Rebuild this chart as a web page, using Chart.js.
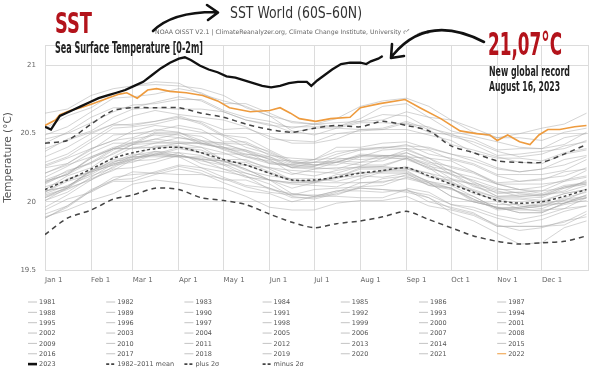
<!DOCTYPE html>
<html>
<head>
<meta charset="utf-8">
<script src="https://cdn.jsdelivr.net/npm/chart.js@4.4.1/dist/chart.umd.min.js"></script>
<style>
  html, body { margin: 0; padding: 0; background: #fff; }
  #wrap { width: 600px; height: 372px; }
</style>
</head>
<body>
<div id="wrap"><canvas id="sst" width="600" height="372"></canvas></div>
<script>
// day of year for the sample points of the climatology and older years
const days = [0,15,31,46,59,74,90,105,120,135,151,166,181,196,212,227,243,258,273,288,304,319,334,349,364];
const days1981 = [243,258,273,288,304,319,334,349,364];
const monthDays = [0,31,59,90,120,151,181,212,243,273,304,334];
const monthLabels = ["Jan 1","Feb 1","Mar 1","Apr 1","May 1","Jun 1","Jul 1","Aug 1","Sep 1","Oct 1","Nov 1","Dec 1"];
const yTicks = [19.5, 20, 20.5, 21];

const meanSst = [20.09,20.16,20.24,20.32,20.36,20.39,20.40,20.36,20.31,20.27,20.21,20.16,20.16,20.18,20.21,20.23,20.25,20.19,20.13,20.07,20.01,19.99,20.00,20.04,20.09];
const plus2Sigma = [20.43,20.45,20.57,20.67,20.69,20.69,20.69,20.65,20.62,20.57,20.53,20.51,20.54,20.56,20.55,20.59,20.56,20.52,20.41,20.36,20.30,20.29,20.29,20.35,20.42];
const minus2Sigma = [19.76,19.88,19.94,20.02,20.05,20.10,20.09,20.03,20.01,19.98,19.91,19.85,19.81,19.84,19.86,19.89,19.93,19.87,19.81,19.75,19.71,19.69,19.70,19.71,19.75];

const days2023 = [0,4,7,10,14,18,24,30,36,42,48,54,60,66,72,78,84,90,94,98,104,110,116,122,128,134,140,146,152,158,164,170,176,179,183,188,193,199,205,212,216,219,224,227];
const sst2023 = [20.55,20.53,20.58,20.63,20.65,20.67,20.70,20.73,20.76,20.78,20.80,20.82,20.85,20.88,20.93,20.98,21.02,21.05,21.06,21.04,21.00,20.97,20.95,20.92,20.91,20.89,20.87,20.85,20.84,20.85,20.87,20.88,20.88,20.85,20.89,20.93,20.97,21.01,21.02,21.02,21.01,21.03,21.05,21.07];

const days2022 = [0,7,10,17,24,32,42,50,55,62,69,75,84,95,106,116,124,138,151,158,165,171,182,192,205,212,225,242,252,266,279,290,299,304,311,319,326,332,338,346,356,364];
const sst2022 = [20.56,20.60,20.64,20.67,20.69,20.72,20.76,20.79,20.80,20.76,20.82,20.83,20.81,20.80,20.78,20.74,20.69,20.66,20.67,20.69,20.65,20.61,20.59,20.61,20.62,20.69,20.72,20.75,20.69,20.61,20.52,20.50,20.49,20.45,20.49,20.44,20.42,20.49,20.53,20.53,20.55,20.56];

const sst1981 = [20.10,20.07,19.98,19.96,19.90,19.87,19.90,19.95,19.97];
const sst1982 = [19.94,20.02,20.07,20.16,20.22,20.21,20.20,20.20,20.17,20.11,20.07,20.05,20.05,20.05,20.11,20.17,20.19,20.12,20.10,20.02,19.94,19.95,19.97,19.99,20.05];
const sst1983 = [20.08,20.11,20.23,20.28,20.31,20.37,20.36,20.28,20.24,20.21,20.16,20.06,20.04,20.08,20.10,20.09,20.07,20.03,19.95,19.91,19.83,19.79,19.81,19.86,19.89];
const sst1984 = [19.88,19.96,20.08,20.15,20.15,20.20,20.24,20.21,20.14,20.08,20.06,20.00,20.04,20.04,20.03,20.03,20.09,20.03,19.92,19.86,19.77,19.69,19.70,19.81,19.86];
const sst1985 = [19.89,19.94,20.01,20.06,20.13,20.16,20.14,20.11,20.10,20.04,19.96,19.94,19.94,19.99,20.01,20.01,20.04,19.97,19.94,19.90,19.82,19.82,19.82,19.85,19.93];
const sst1986 = [19.91,19.97,20.08,20.18,20.20,20.21,20.26,20.23,20.16,20.16,20.10,20.03,20.03,20.07,20.14,20.15,20.17,20.13,20.10,20.01,19.98,19.98,19.97,20.03,20.07];
const sst1987 = [20.07,20.17,20.22,20.33,20.40,20.40,20.40,20.40,20.36,20.30,20.25,20.23,20.22,20.21,20.26,20.32,20.32,20.24,20.21,20.12,20.04,20.04,20.05,20.07,20.12];
const sst1988 = [20.11,20.16,20.22,20.27,20.34,20.37,20.34,20.30,20.27,20.19,20.09,20.06,20.04,20.08,20.08,20.07,20.09,20.00,19.96,19.92,19.82,19.82,19.82,19.83,19.91];
const sst1989 = [19.88,19.97,20.09,20.16,20.17,20.22,20.27,20.25,20.18,20.12,20.10,20.05,20.09,20.10,20.11,20.12,20.18,20.14,20.04,20.00,19.96,19.92,19.92,19.99,20.03];
const sst1990 = [20.04,20.10,20.21,20.31,20.33,20.34,20.39,20.36,20.29,20.29,20.22,20.16,20.15,20.18,20.25,20.25,20.25,20.21,20.17,20.08,20.03,20.03,20.01,20.06,20.09];
const sst1991 = [20.07,20.15,20.20,20.29,20.35,20.34,20.33,20.33,20.30,20.23,20.19,20.17,20.17,20.15,20.19,20.23,20.23,20.14,20.10,20.02,19.95,19.96,19.99,20.01,20.08];
const sst1992 = [20.08,20.11,20.22,20.27,20.29,20.35,20.33,20.25,20.22,20.19,20.13,20.04,20.02,20.06,20.10,20.09,20.08,20.05,19.98,19.94,19.88,19.84,19.87,19.93,19.97];
const sst1993 = [19.96,20.05,20.16,20.24,20.25,20.29,20.34,20.31,20.24,20.18,20.16,20.10,20.14,20.14,20.14,20.14,20.20,20.14,20.04,20.00,19.96,19.92,19.92,19.99,20.03];
const sst1994 = [20.03,20.09,20.17,20.23,20.31,20.35,20.34,20.31,20.30,20.24,20.16,20.14,20.14,20.20,20.21,20.22,20.26,20.18,20.16,20.13,20.04,20.05,20.05,20.08,20.16];
const sst1995 = [20.14,20.20,20.29,20.39,20.39,20.40,20.43,20.40,20.31,20.31,20.24,20.16,20.15,20.17,20.22,20.21,20.21,20.15,20.10,20.00,19.96,19.95,19.93,19.98,20.01];
const sst1996 = [20.01,20.10,20.16,20.26,20.33,20.33,20.33,20.32,20.28,20.21,20.16,20.13,20.12,20.11,20.17,20.22,20.22,20.15,20.12,20.04,19.95,19.96,19.98,19.99,20.05];
const sst1997 = [20.05,20.10,20.23,20.29,20.33,20.41,20.41,20.36,20.35,20.35,20.32,20.25,20.26,20.33,20.38,20.40,20.41,20.40,20.35,20.32,20.25,20.22,20.24,20.31,20.34];
const sst1998 = [20.33,20.40,20.50,20.57,20.56,20.59,20.62,20.57,20.48,20.40,20.35,20.28,20.29,20.29,20.27,20.27,20.32,20.25,20.14,20.09,20.03,19.97,19.95,20.01,20.03];
const sst1999 = [20.06,20.12,20.19,20.25,20.32,20.36,20.34,20.31,20.30,20.24,20.16,20.14,20.14,20.18,20.19,20.18,20.21,20.12,20.09,20.04,19.95,19.94,19.94,19.95,20.03];
const sst2000 = [20.01,20.07,20.18,20.28,20.30,20.31,20.36,20.34,20.27,20.27,20.21,20.15,20.15,20.18,20.24,20.24,20.24,20.19,20.15,20.06,20.02,20.02,20.00,20.06,20.09];
const sst2001 = [20.09,20.19,20.25,20.36,20.42,20.43,20.43,20.43,20.39,20.33,20.28,20.26,20.25,20.24,20.29,20.34,20.34,20.26,20.23,20.15,20.06,20.07,20.08,20.10,20.15];
const sst2002 = [20.15,20.20,20.32,20.39,20.42,20.50,20.49,20.42,20.40,20.38,20.33,20.25,20.24,20.29,20.34,20.34,20.33,20.32,20.25,20.21,20.13,20.09,20.11,20.16,20.19];
const sst2003 = [20.18,20.26,20.36,20.43,20.43,20.46,20.50,20.48,20.40,20.35,20.33,20.27,20.31,20.32,20.31,20.32,20.38,20.32,20.22,20.18,20.13,20.09,20.08,20.15,20.18];
const sst2004 = [20.21,20.27,20.33,20.39,20.46,20.49,20.47,20.44,20.43,20.37,20.28,20.27,20.26,20.31,20.33,20.33,20.36,20.29,20.26,20.22,20.13,20.13,20.13,20.15,20.23];
const sst2005 = [20.21,20.28,20.38,20.49,20.50,20.52,20.56,20.53,20.44,20.44,20.36,20.29,20.27,20.29,20.35,20.34,20.33,20.28,20.23,20.14,20.09,20.09,20.06,20.12,20.14];
const sst2006 = [20.14,20.23,20.28,20.38,20.44,20.44,20.43,20.43,20.40,20.34,20.29,20.27,20.27,20.27,20.33,20.38,20.39,20.32,20.30,20.22,20.14,20.15,20.17,20.19,20.25];
const sst2007 = [20.25,20.28,20.39,20.45,20.47,20.53,20.51,20.43,20.39,20.37,20.31,20.21,20.19,20.23,20.26,20.26,20.24,20.21,20.13,20.08,20.00,19.95,19.97,20.02,20.04];
const sst2008 = [20.03,20.11,20.23,20.30,20.31,20.35,20.40,20.38,20.31,20.27,20.25,20.20,20.24,20.25,20.25,20.26,20.32,20.27,20.17,20.13,20.08,20.04,20.03,20.10,20.13];
const sst2009 = [20.16,20.22,20.29,20.35,20.42,20.46,20.44,20.43,20.42,20.38,20.31,20.30,20.31,20.37,20.38,20.39,20.42,20.35,20.32,20.28,20.20,20.20,20.20,20.23,20.31];
const sst2010 = [20.29,20.35,20.46,20.56,20.57,20.59,20.63,20.58,20.49,20.47,20.38,20.30,20.27,20.29,20.34,20.33,20.31,20.25,20.20,20.11,20.07,20.07,20.05,20.11,20.14];
const sst2011 = [20.13,20.21,20.32,20.39,20.39,20.43,20.47,20.45,20.38,20.33,20.30,20.25,20.29,20.30,20.29,20.30,20.36,20.30,20.20,20.16,20.10,20.06,20.04,20.11,20.13];
const sst2012 = [20.15,20.20,20.33,20.40,20.43,20.51,20.51,20.45,20.43,20.42,20.37,20.29,20.29,20.35,20.39,20.40,20.39,20.38,20.31,20.27,20.19,20.15,20.16,20.22,20.24];
const sst2013 = [20.26,20.32,20.39,20.45,20.52,20.56,20.54,20.51,20.49,20.43,20.34,20.32,20.31,20.40,20.40,20.43,20.44,20.39,20.35,20.30,20.24,20.22,20.24,20.27,20.33];
const sst2014 = [20.27,20.33,20.44,20.54,20.55,20.57,20.61,20.59,20.53,20.54,20.48,20.43,20.43,20.46,20.53,20.53,20.53,20.49,20.45,20.36,20.32,20.32,20.30,20.36,20.39];
const sst2015 = [20.37,20.46,20.52,20.62,20.68,20.69,20.68,20.68,20.66,20.60,20.56,20.55,20.55,20.55,20.61,20.70,20.72,20.62,20.60,20.54,20.47,20.50,20.54,20.57,20.65];
const sst2016 = [20.65,20.68,20.78,20.83,20.85,20.88,20.87,20.79,20.74,20.70,20.63,20.52,20.49,20.54,20.58,20.58,20.57,20.55,20.48,20.44,20.37,20.33,20.35,20.41,20.44];
const sst2017 = [20.43,20.51,20.62,20.69,20.69,20.73,20.77,20.74,20.66,20.60,20.57,20.51,20.54,20.54,20.53,20.54,20.59,20.53,20.42,20.38,20.33,20.29,20.28,20.35,20.38];
const sst2018 = [20.39,20.45,20.51,20.57,20.63,20.67,20.64,20.62,20.60,20.55,20.46,20.45,20.44,20.50,20.52,20.53,20.58,20.51,20.49,20.46,20.38,20.39,20.39,20.42,20.51];
const sst2019 = [20.49,20.55,20.66,20.76,20.77,20.79,20.83,20.80,20.72,20.72,20.65,20.58,20.57,20.61,20.70,20.74,20.76,20.70,20.60,20.51,20.47,20.47,20.45,20.51,20.54];
const sst2020 = [20.54,20.63,20.69,20.79,20.85,20.86,20.85,20.83,20.78,20.69,20.63,20.59,20.57,20.55,20.59,20.64,20.63,20.54,20.50,20.42,20.34,20.35,20.37,20.39,20.45];
const sst2021 = [20.46,20.50,20.58,20.66,20.71,20.72,20.75,20.75,20.67,20.62,20.59,20.54,20.57,20.58,20.59,20.60,20.66,20.62,20.52,20.48,20.44,20.40,20.39,20.47,20.50];

const pastYears = [
  [1981, days1981, sst1981], [1982, days, sst1982], [1983, days, sst1983], [1984, days, sst1984],
  [1985, days, sst1985], [1986, days, sst1986], [1987, days, sst1987], [1988, days, sst1988],
  [1989, days, sst1989], [1990, days, sst1990], [1991, days, sst1991], [1992, days, sst1992],
  [1993, days, sst1993], [1994, days, sst1994], [1995, days, sst1995], [1996, days, sst1996],
  [1997, days, sst1997], [1998, days, sst1998], [1999, days, sst1999], [2000, days, sst2000],
  [2001, days, sst2001], [2002, days, sst2002], [2003, days, sst2003], [2004, days, sst2004],
  [2005, days, sst2005], [2006, days, sst2006], [2007, days, sst2007], [2008, days, sst2008],
  [2009, days, sst2009], [2010, days, sst2010], [2011, days, sst2011], [2012, days, sst2012],
  [2013, days, sst2013], [2014, days, sst2014], [2015, days, sst2015], [2016, days, sst2016],
  [2017, days, sst2017], [2018, days, sst2018], [2019, days, sst2019], [2020, days, sst2020],
  [2021, days, sst2021]
];

const toPoints = (xs, ys) => xs.map((x, i) => ({ x: x, y: ys[i] }));

const datasets = pastYears.map(([yil, xs, ys]) => ({
  label: String(yil),
  data: toPoints(xs, ys),
  borderColor: 'rgba(170,170,170,0.5)',
  legendColor: '#c4c4c4',
  borderWidth: 1,
  order: 5
}));
datasets.push({ label: '2022', data: toPoints(days2022, sst2022), borderColor: '#ee9b3e', legendColor: '#ee9b3e', borderWidth: 1.6, order: 1 });
datasets.push({ label: '2023', data: toPoints(days2023, sst2023), borderColor: '#111', legendColor: '#111', borderWidth: 2.3, order: 0 });
datasets.push({ label: '1982–2011 mean', data: toPoints(days, meanSst), borderColor: '#444', legendColor: '#444', borderWidth: 1.5, borderDash: [3, 2.5], tension: 0.25, order: 2 });
datasets.push({ label: 'plus 2σ', data: toPoints(days, plus2Sigma), borderColor: '#444', legendColor: '#444', borderWidth: 1.5, borderDash: [5, 4], tension: 0.25, order: 3 });
datasets.push({ label: 'minus 2σ', data: toPoints(days, minus2Sigma), borderColor: '#444', legendColor: '#444', borderWidth: 1.5, borderDash: [5, 4], tension: 0.25, order: 3 });

// text squeezed to a given width (condensed look of the original)
const fitText = (ctx, text, x, y, w, font, color) => {
  ctx.save();
  ctx.font = font;
  ctx.fillStyle = color;
  ctx.textAlign = 'left';
  ctx.textBaseline = 'alphabetic';
  const m = ctx.measureText(text).width;
  ctx.translate(x, y);
  ctx.scale(w / m, 1);
  ctx.fillText(text, 0, 0);
  ctx.restore();
};

const notes = {
  id: 'notes',
  afterDraw(chart) {
    const ctx = chart.ctx;
    const cond = '"Liberation Sans Narrow", "DejaVu Sans Condensed", "DejaVu Sans", sans-serif';

    // legend, 7 columns
    ctx.save();
    chart.data.datasets.forEach((ds, i) => {
      const x = 28 + (i % 7) * 78.2;
      const y = 302 + Math.floor(i / 7) * 10.35;
      ctx.beginPath();
      ctx.setLineDash(ds.borderDash ? [3, 2] : []);
      ctx.strokeStyle = ds.legendColor;
      ctx.lineWidth = ds.label === '2023' ? 2.6 : (ds.borderDash ? 1.6 : 1);
      ctx.moveTo(x, y);
      ctx.lineTo(x + 9, y);
      ctx.stroke();
      ctx.setLineDash([]);
      ctx.font = '6.5px "DejaVu Sans"';
      ctx.fillStyle = '#555';
      ctx.textBaseline = 'middle';
      ctx.fillText(ds.label, x + 11, y + 0.5);
    });
    ctx.restore();

    // titles
    fitText(ctx, 'SST', 55, 33, 37, 'bold 29px ' + cond, '#b3131b');
    fitText(ctx, 'Sea Surface Temperature [0-2m]', 55, 53, 148, 'bold 15px ' + cond, '#222');
    fitText(ctx, 'SST World (60S–60N)', 230, 18, 132, '16px "DejaVu Sans"', '#333');
    ctx.save();
    ctx.font = '6.2px "DejaVu Sans"';
    ctx.fillStyle = '#666';
    ctx.fillText('NOAA OISST V2.1 | ClimateReanalyzer.org, Climate Change Institute, University of Maine', 155, 34);
    ctx.restore();
    fitText(ctx, '21,07°C', 488, 55, 74, 'bold 32px ' + cond, '#b3131b');
    fitText(ctx, 'New global record', 489, 76, 81, 'bold 14px ' + cond, '#222');
    fitText(ctx, 'August 16, 2023', 489, 91, 71, 'bold 14px ' + cond, '#222');

    // arrows
    ctx.save();
    ctx.lineCap = 'round';
    ctx.lineJoin = 'round';
    ctx.strokeStyle = '#fff';
    ctx.lineWidth = 7;
    ctx.beginPath();
    ctx.moveTo(484, 42);
    ctx.quadraticCurveTo(430, 12, 405, 38);
    ctx.stroke();
    ctx.strokeStyle = '#111';
    ctx.lineWidth = 2.6;
    ctx.beginPath();
    ctx.moveTo(153, 31);
    ctx.quadraticCurveTo(172, 12, 215, 12);
    ctx.moveTo(207, 5);
    ctx.lineTo(218, 12.5);
    ctx.lineTo(208, 20);
    ctx.stroke();
    ctx.beginPath();
    ctx.moveTo(484, 42);
    ctx.quadraticCurveTo(428, 13, 393, 55);
    ctx.moveTo(392, 44);
    ctx.lineTo(391, 58);
    ctx.lineTo(404, 56);
    ctx.stroke();
    ctx.restore();
  }
};

const tickFont = { family: 'DejaVu Sans', size: 7 };

new Chart(document.getElementById('sst'), {
  type: 'line',
  data: { datasets: datasets },
  options: {
    responsive: false,
    animation: false,
    devicePixelRatio: 1,
    parsing: true,
    elements: { point: { radius: 0 }, line: { tension: 0, fill: false } },
    layout: { padding: { top: 45, right: 12, bottom: 82, left: 0 } },
    plugins: { legend: { display: false }, tooltip: { enabled: false } },
    scales: {
      x: {
        type: 'linear',
        min: 0,
        max: 365,
        afterBuildTicks: (scale) => {
          scale.ticks = monthDays.concat([365]).map(v => ({ value: v }));
        },
        afterFit: (scale) => { scale.height = 20; },
        grid: { color: '#dcdcdc', drawTicks: false },
        border: { color: '#dcdcdc' },
        ticks: {
          autoSkip: false,
          maxRotation: 0,
          align: 'start',
          padding: 6,
          color: '#666',
          font: tickFont,
          callback: (v, i) => monthLabels[i] || ''
        }
      },
      y: {
        min: 19.5,
        max: 21.15,
        afterBuildTicks: (scale) => {
          scale.ticks = yTicks.concat([21.15]).map(v => ({ value: v }));
        },
        afterFit: (scale) => { scale.width = 45; },
        grid: { color: '#dcdcdc', drawTicks: false },
        border: { color: '#dcdcdc' },
        ticks: {
          autoSkip: false,
          padding: 9,
          color: '#666',
          font: tickFont,
          callback: (v) => yTicks.includes(v) ? String(v) : ''
        },
        title: {
          display: true,
          text: 'Temperature (°C)',
          color: '#555',
          font: { family: 'DejaVu Sans', size: 10.5 },
          padding: { top: 2, bottom: 0 }
        }
      }
    }
  },
  plugins: [notes]
});
</script>
</body>
</html>
